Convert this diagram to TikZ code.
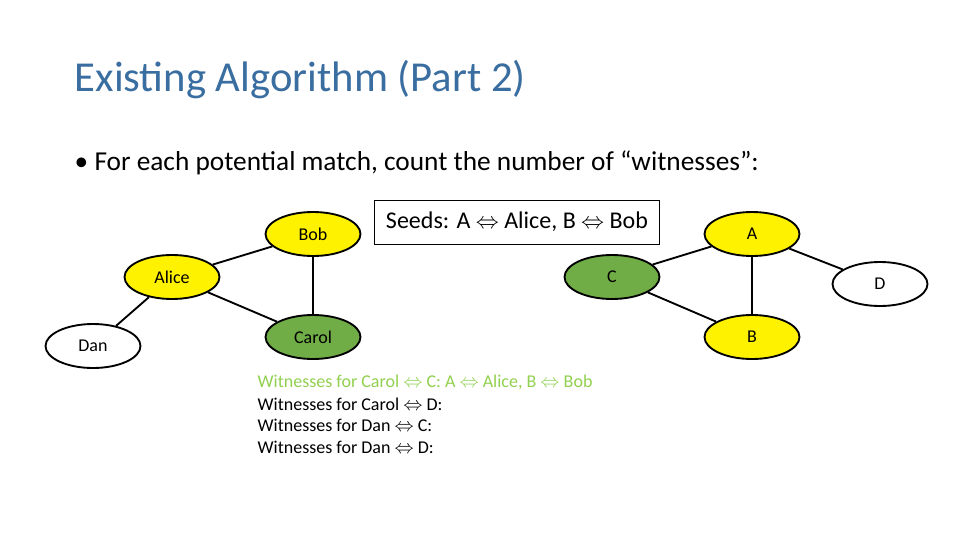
\documentclass[tikz,border=0pt]{standalone}
\usepackage{fontspec}
\setmainfont{Carlito}
\usetikzlibrary{shapes.geometric}
\definecolor{titleblue}{HTML}{3A6EA0}
\definecolor{wgreen}{HTML}{92D050}
\definecolor{cgreen}{HTML}{70AD47}
\tikzset{
  vtx/.style={draw, ellipse, line width=1.4pt, minimum width=95*0.75pt, minimum height=44*0.75pt, font=\fontsize{13.5}{15}\selectfont},
  seed/.style={vtx, fill=yellow},
  cand/.style={vtx, fill=cgreen},
  edge/.style={line width=1.4pt},
  wline/.style={anchor=west, font=\fontsize{13.5}{15}\selectfont}
}
\begin{document}
\begin{tikzpicture}[x=0.75pt, y=-0.75pt]
  \useasboundingbox[fill=white] (0,0) rectangle (960,540);
  \node[anchor=west, text=titleblue, font=\fontsize{32}{36}\selectfont] (title) at (70,80) {Existing Algorithm (Part 2)};
  \node[anchor=west, font=\fontsize{20.5}{24}\selectfont] (bullet) at (70,163) {\textbullet\ For each potential match, count the number of “witnesses”:};
  \node[draw, line width=0.6pt, anchor=center, minimum width=285*0.75pt, minimum height=44*0.75pt, font=\fontsize{18}{20}\selectfont] (seeds) at (517,222) {Seeds: A $\Leftrightarrow$ Alice, B $\Leftrightarrow$ Bob};
  % left graph
  \node[seed] (bob) at (313,234) {Bob};
  \node[seed] (alice) at (172,277) {Alice};
  \node[vtx] (dan) at (93,346) {Dan};
  \node[cand] (carol) at (313,337) {Carol};
  \draw[edge] (alice) -- (bob);
  \draw[edge] (alice) -- (carol);
  \draw[edge] (alice) -- (dan);
  \draw[edge] (bob) -- (carol);
  % right graph
  \node[seed] (a) at (752,234) {A};
  \node[cand] (c) at (612,277) {C};
  \node[vtx] (d) at (880,284) {D};
  \node[seed] (b) at (752,337) {B};
  \draw[edge] (c) -- (a);
  \draw[edge] (c) -- (b);
  \draw[edge] (a) -- (b);
  \draw[edge] (a) -- (d);
  % witnesses
  \node[wline, text=wgreen] (w1) at (253,382) {Witnesses for Carol $\Leftrightarrow$ C: A $\Leftrightarrow$ Alice, B $\Leftrightarrow$ Bob};
  \node[wline] (w2) at (253,404) {Witnesses for Carol $\Leftrightarrow$ D:};
  \node[wline] (w3) at (253,425) {Witnesses for Dan $\Leftrightarrow$ C:};
  \node[wline] (w4) at (253,447) {Witnesses for Dan $\Leftrightarrow$ D:};
\end{tikzpicture}
\end{document}
